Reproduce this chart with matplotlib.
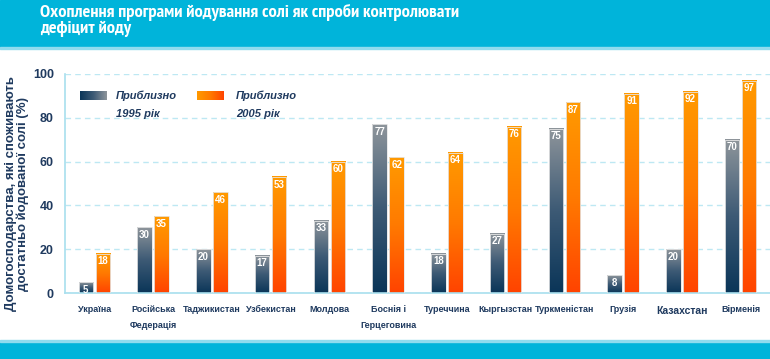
import numpy as np
import matplotlib.pyplot as plt
from matplotlib.colors import LinearSegmentedColormap
from matplotlib.patches import Rectangle

plt.rcParams['font.family'] = ['Liberation Sans', 'DejaVu Sans']

countries = ["Україна", "Російська\nФедерація", "Таджикистан", "Узбекистан", "Молдова",
             "Боснія і\nГерцеговина", "Туреччина", "Кыргызстан", "Туркменістан", "Грузія",
             "Казахстан", "Вірменія"]
y1995 = [5, 30, 20, 17, 33, 77, 18, 27, 75, 8, 20, 70]
y2005 = [18, 35, 46, 53, 60, 62, 64, 76, 87, 91, 92, 97]

navy = "#1f3a5f"
cyan = "#00b4da"
cm_dark = LinearSegmentedColormap.from_list("dark", ["#0a3558", "#3d5a75", "#8e959b"])
cm_orange = LinearSegmentedColormap.from_list("orng", ["#ff4300", "#ff7a00", "#ff9a00"])
grad = np.linspace(0, 1, 256).reshape(-1, 1)

fig = plt.figure(figsize=(7.7, 3.59), dpi=100)

# top / bottom bands
fig.patches.append(Rectangle((0, 1 - 47 / 359), 1, 47 / 359, transform=fig.transFigure,
                             color=cyan, zorder=0))
fig.patches.append(Rectangle((0, 1 - 49 / 359), 1, 2 / 359, transform=fig.transFigure,
                             color="#8fdcee", zorder=0))
fig.patches.append(Rectangle((0, 0), 1, 17 / 359, transform=fig.transFigure,
                             color=cyan, zorder=0))
fig.patches.append(Rectangle((0, 17 / 359), 1, 2 / 359, transform=fig.transFigure,
                             color="#8fdcee", zorder=0))
fig.text(40 / 770, 1 - 4 / 359, "Охоплення програми йодування солі як спроби контролювати\nдефіцит йоду",
         color="white", fontsize=13.2, fontweight="bold", va="top", ha="left",
         family=["PT Sans Narrow", "Roboto Condensed", "Liberation Sans"], linespacing=1.0)

ax = fig.add_axes([65 / 770, 66 / 359, 705 / 770, 219 / 359])
for s in ["top", "right"]:
    ax.spines[s].set_visible(False)
for s in ["left", "bottom"]:
    ax.spines[s].set_color("#a8dfee")
    ax.spines[s].set_linewidth(1.2)
ax.set_yticks([0, 20, 40, 60, 80, 100])
ax.tick_params(axis="y", length=0, labelsize=9, labelcolor=navy, pad=8)
for t in ax.get_yticklabels():
    t.set_fontweight("bold")
ax.yaxis.grid(True, linestyle=(0, (4, 3)), color="#bde8f3", linewidth=1)
ax.set_axisbelow(True)
ax.set_xticks(range(len(countries)))
ax.set_xticklabels(countries, fontsize=6.5, fontweight="bold", color=navy, linespacing=1.9, va="top")
ax.get_xticklabels()[10].set_fontsize(7.5)
ax.tick_params(axis="x", length=0, pad=9)

w = 0.245
off = 0.145
for i in range(len(countries)):
    for val, dx, cm in [(y1995[i], -off, cm_dark), (y2005[i], off, cm_orange)]:
        x0 = i + dx - w / 2
        ax.imshow(grad, cmap=cm, origin="lower", aspect="auto",
                  extent=[x0, x0 + w, 0, val], zorder=2)
        ax.add_patch(Rectangle((x0, 0), w, val, fill=False, edgecolor="#e6e6e6",
                               linewidth=0.6, zorder=3))
        ax.text(i + dx, val - 1.2, str(val), ha="center", va="top", color="white",
                fontsize=7, fontweight="bold", zorder=4)

ax.set_xlim(-0.5, len(countries) - 0.5)
ax.set_ylim(0, 100)

# legend drawn in pixel coordinates
lg = fig.add_axes([0, 0, 1, 1], facecolor="none")
lg.axis("off")
lg.imshow(grad.T, cmap=cm_dark, aspect="auto", extent=[80, 107, 100, 91], zorder=2)
lg.imshow(grad.T, cmap=cm_orange.reversed(), aspect="auto", extent=[197, 224, 100, 91], zorder=2)
lg.set_xlim(0, 770)
lg.set_ylim(359, 0)
for x, yr in [(116, "1995 рік"), (236, "2005 рік")]:
    lg.text(x, 96, "Приблизно", fontsize=8, fontstyle="italic", fontweight="bold",
            color=navy, va="center")
    lg.text(x, 114, yr, fontsize=8, fontstyle="italic", fontweight="bold",
            color=navy, va="center")

fig.text(17 / 770, 1 - 194 / 359, "Домогосподарства, які споживають\nдостатньо йодованої солі (%)",
         rotation=90, ha="center", va="center", fontsize=9.5, fontweight="bold",
         color=navy, linespacing=1.0)

fig.savefig("out.png", dpi=100)
